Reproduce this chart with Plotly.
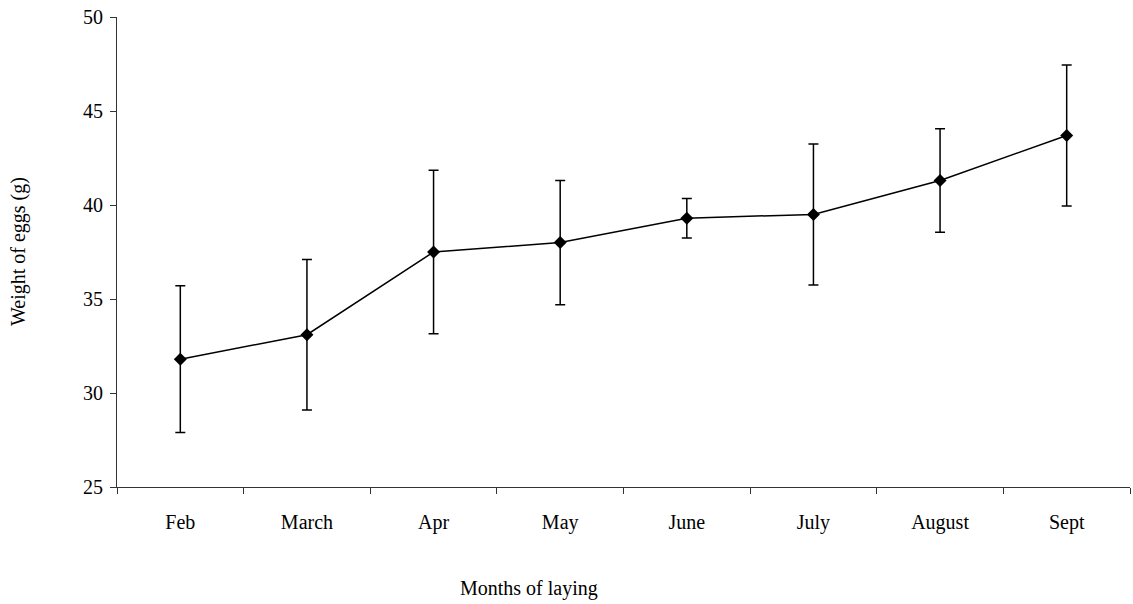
import plotly.graph_objects as go

months = ["Feb", "March", "Apr", "May", "June", "July", "August", "Sept"]
weight = [31.8, 33.1, 37.5, 38.0, 39.3, 39.5, 41.3, 43.7]
err_plus = [3.9, 4.0, 4.35, 3.3, 1.05, 3.75, 2.75, 3.75]
err_minus = [3.9, 4.0, 4.35, 3.3, 1.05, 3.75, 2.75, 3.75]
y_ticks = [25, 30, 35, 40, 45, 50]

FONT = "Liberation Serif, Times New Roman, serif"
FS = 20

fig = go.Figure()
fig.add_trace(go.Scatter(
    x=months, y=weight, mode="lines+markers",
    line=dict(color="black", width=1.5),
    marker=dict(symbol="diamond", size=10, color="black"),
    error_y=dict(type="data", symmetric=False, array=err_plus, arrayminus=err_minus,
                 color="black", thickness=1.5, width=5),
    showlegend=False,
))

fig.update_layout(
    width=1133, height=604,
    margin=dict(l=117, r=3, t=17, b=117),
    paper_bgcolor="white", plot_bgcolor="white",
    font=dict(family=FONT, size=FS, color="black"),
    xaxis=dict(
        type="category", tickson="boundaries", ticks="outside", ticklen=6,
        tickcolor="#333", showline=True, linecolor="#333", linewidth=1,
        showgrid=False, zeroline=False, ticklabelstandoff=17,
        range=[-0.5, 7.5],
    ),
    yaxis=dict(
        range=[25, 50], tickvals=y_ticks, ticks="outside", ticklen=6,
        tickcolor="#333", showline=True, linecolor="#333", linewidth=1,
        showgrid=False, zeroline=False, ticklabelstandoff=3,
    ),
    annotations=[
        dict(text="Months of laying", x=529, y=588, xref="paper", yref="paper",
             showarrow=False, font=dict(family=FONT, size=FS)),
        dict(text="Weight of eggs (g)", x=18, y=252, xref="paper", yref="paper",
             showarrow=False, textangle=-90, font=dict(family=FONT, size=FS)),
    ],
)
# convert annotation pixel coords to paper coords
pw = 1133 - 117 - 3
ph = 604 - 17 - 117
for a in fig.layout.annotations:
    a.x = (a.x - 117) / pw
    a.y = (604 - 117 - a.y) / ph
    a.xanchor = "center"
    a.yanchor = "middle"

fig.write_html("out.html")
